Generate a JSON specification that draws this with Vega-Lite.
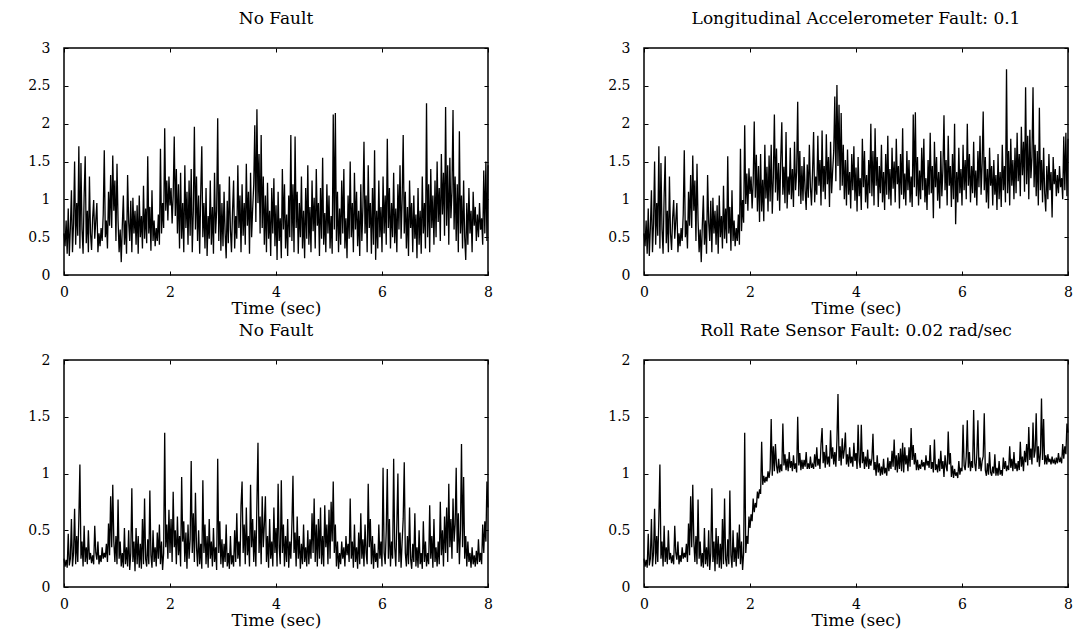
{
"$schema": "https://vega.github.io/schema/vega-lite/v6.json",
"background": "white",
"padding": {"left": 26, "top": 9, "right": 10, "bottom": 10},
"datasets": {"s": [
{"t":0.00,"a":0.55,"b":0.55,"c":0.25,"d":0.25},
{"t":0.02,"a":0.38,"b":0.38,"c":0.18,"d":0.18},
{"t":0.04,"a":0.72,"b":0.72,"c":0.24,"d":0.24},
{"t":0.06,"a":0.28,"b":0.28,"c":0.17,"d":0.17},
{"t":0.08,"a":0.88,"b":0.88,"c":0.47,"d":0.47},
{"t":0.10,"a":0.25,"b":0.25,"c":0.19,"d":0.19},
{"t":0.12,"a":0.62,"b":0.62,"c":0.25,"d":0.25},
{"t":0.14,"a":1.12,"b":1.12,"c":0.60,"d":0.60},
{"t":0.16,"a":0.30,"b":0.30,"c":0.18,"d":0.18},
{"t":0.18,"a":0.68,"b":0.68,"c":0.30,"d":0.30},
{"t":0.20,"a":1.50,"b":1.50,"c":0.69,"d":0.69},
{"t":0.22,"a":0.40,"b":0.40,"c":0.20,"d":0.20},
{"t":0.24,"a":0.95,"b":0.95,"c":0.45,"d":0.45},
{"t":0.26,"a":0.52,"b":0.52,"c":0.22,"d":0.22},
{"t":0.28,"a":1.70,"b":1.70,"c":0.60,"d":0.60},
{"t":0.30,"a":0.35,"b":0.35,"c":1.08,"d":1.08},
{"t":0.32,"a":1.48,"b":1.48,"c":0.25,"d":0.25},
{"t":0.34,"a":0.60,"b":0.60,"c":0.40,"d":0.40},
{"t":0.36,"a":0.28,"b":0.28,"c":0.18,"d":0.18},
{"t":0.38,"a":1.05,"b":1.05,"c":0.54,"d":0.54},
{"t":0.40,"a":1.57,"b":1.57,"c":0.22,"d":0.22},
{"t":0.42,"a":0.42,"b":0.42,"c":0.35,"d":0.35},
{"t":0.44,"a":0.85,"b":0.85,"c":0.20,"d":0.20},
{"t":0.46,"a":0.30,"b":0.30,"c":0.50,"d":0.50},
{"t":0.48,"a":1.30,"b":1.30,"c":0.24,"d":0.24},
{"t":0.50,"a":0.55,"b":0.55,"c":0.30,"d":0.30},
{"t":0.52,"a":0.33,"b":0.33,"c":0.21,"d":0.21},
{"t":0.54,"a":0.75,"b":0.75,"c":0.28,"d":0.28},
{"t":0.56,"a":0.99,"b":0.99,"c":0.20,"d":0.20},
{"t":0.58,"a":0.48,"b":0.48,"c":0.54,"d":0.54},
{"t":0.60,"a":0.72,"b":0.72,"c":0.30,"d":0.30},
{"t":0.62,"a":0.95,"b":0.95,"c":0.24,"d":0.24},
{"t":0.64,"a":0.30,"b":0.30,"c":0.40,"d":0.40},
{"t":0.66,"a":0.55,"b":0.55,"c":0.20,"d":0.20},
{"t":0.68,"a":0.38,"b":0.38,"c":0.28,"d":0.28},
{"t":0.70,"a":0.62,"b":0.62,"c":0.22,"d":0.22},
{"t":0.72,"a":0.45,"b":0.45,"c":0.35,"d":0.35},
{"t":0.74,"a":0.80,"b":0.80,"c":0.25,"d":0.25},
{"t":0.76,"a":1.65,"b":1.65,"c":0.30,"d":0.30},
{"t":0.78,"a":0.50,"b":0.50,"c":0.26,"d":0.26},
{"t":0.80,"a":0.72,"b":0.72,"c":0.38,"d":0.38},
{"t":0.82,"a":0.35,"b":0.35,"c":0.22,"d":0.22},
{"t":0.84,"a":1.10,"b":1.10,"c":0.56,"d":0.56},
{"t":0.86,"a":0.65,"b":0.65,"c":0.28,"d":0.28},
{"t":0.88,"a":1.32,"b":1.32,"c":0.80,"d":0.80},
{"t":0.90,"a":0.62,"b":0.62,"c":0.35,"d":0.35},
{"t":0.92,"a":1.58,"b":1.58,"c":0.90,"d":0.90},
{"t":0.94,"a":0.85,"b":0.85,"c":0.40,"d":0.40},
{"t":0.96,"a":1.25,"b":1.25,"c":0.22,"d":0.22},
{"t":0.98,"a":0.45,"b":0.45,"c":0.45,"d":0.45},
{"t":1.00,"a":1.47,"b":1.47,"c":0.20,"d":0.20},
{"t":1.02,"a":0.72,"b":0.72,"c":0.77,"d":0.77},
{"t":1.04,"a":0.30,"b":0.30,"c":0.25,"d":0.25},
{"t":1.06,"a":0.60,"b":0.60,"c":0.40,"d":0.40},
{"t":1.08,"a":0.17,"b":0.17,"c":0.18,"d":0.18},
{"t":1.10,"a":0.65,"b":0.65,"c":0.30,"d":0.30},
{"t":1.12,"a":1.05,"b":1.05,"c":0.17,"d":0.17},
{"t":1.14,"a":0.40,"b":0.40,"c":0.52,"d":0.52},
{"t":1.16,"a":0.72,"b":0.72,"c":0.20,"d":0.20},
{"t":1.18,"a":0.28,"b":0.28,"c":0.35,"d":0.35},
{"t":1.20,"a":1.32,"b":1.32,"c":0.18,"d":0.18},
{"t":1.22,"a":0.70,"b":0.70,"c":0.50,"d":0.50},
{"t":1.24,"a":0.45,"b":0.45,"c":0.15,"d":0.15},
{"t":1.26,"a":0.98,"b":0.98,"c":0.30,"d":0.30},
{"t":1.28,"a":0.30,"b":0.30,"c":0.87,"d":0.87},
{"t":1.30,"a":1.02,"b":1.02,"c":0.22,"d":0.22},
{"t":1.32,"a":0.55,"b":0.55,"c":0.40,"d":0.40},
{"t":1.34,"a":0.85,"b":0.85,"c":0.14,"d":0.14},
{"t":1.36,"a":0.40,"b":0.40,"c":0.52,"d":0.52},
{"t":1.38,"a":0.92,"b":0.92,"c":0.20,"d":0.20},
{"t":1.40,"a":0.28,"b":0.28,"c":0.45,"d":0.45},
{"t":1.42,"a":1.05,"b":1.05,"c":0.17,"d":0.17},
{"t":1.44,"a":0.50,"b":0.50,"c":0.38,"d":0.38},
{"t":1.46,"a":0.78,"b":0.78,"c":0.16,"d":0.16},
{"t":1.48,"a":0.35,"b":0.35,"c":0.60,"d":0.60},
{"t":1.50,"a":1.18,"b":1.18,"c":0.20,"d":0.20},
{"t":1.52,"a":0.48,"b":0.48,"c":0.78,"d":0.78},
{"t":1.54,"a":0.88,"b":0.88,"c":0.25,"d":0.25},
{"t":1.56,"a":0.42,"b":0.42,"c":0.18,"d":0.18},
{"t":1.58,"a":1.57,"b":1.57,"c":0.42,"d":0.42},
{"t":1.60,"a":0.55,"b":0.55,"c":0.20,"d":0.20},
{"t":1.62,"a":0.90,"b":0.90,"c":0.85,"d":0.85},
{"t":1.64,"a":0.32,"b":0.32,"c":0.28,"d":0.28},
{"t":1.66,"a":1.12,"b":1.12,"c":0.17,"d":0.17},
{"t":1.68,"a":0.45,"b":0.45,"c":0.50,"d":0.50},
{"t":1.70,"a":0.72,"b":0.72,"c":0.22,"d":0.22},
{"t":1.72,"a":0.38,"b":0.38,"c":0.35,"d":0.35},
{"t":1.74,"a":0.62,"b":0.62,"c":0.18,"d":0.18},
{"t":1.76,"a":0.45,"b":0.45,"c":0.48,"d":0.48},
{"t":1.78,"a":0.80,"b":0.80,"c":0.25,"d":0.25},
{"t":1.80,"a":0.40,"b":0.40,"c":0.55,"d":0.55},
{"t":1.82,"a":1.67,"b":1.67,"c":0.20,"d":0.20},
{"t":1.84,"a":0.55,"b":0.58,"c":0.40,"d":0.40},
{"t":1.86,"a":0.95,"b":0.99,"c":0.15,"d":0.15},
{"t":1.88,"a":0.62,"b":0.69,"c":0.30,"d":0.30},
{"t":1.90,"a":1.94,"b":1.98,"c":1.36,"d":1.36},
{"t":1.92,"a":0.85,"b":0.94,"c":0.35,"d":0.30},
{"t":1.94,"a":1.25,"b":1.34,"c":0.55,"d":0.45},
{"t":1.96,"a":0.72,"b":0.85,"c":0.25,"d":0.38},
{"t":1.98,"a":1.30,"b":1.41,"c":0.68,"d":0.62},
{"t":2.00,"a":0.92,"b":1.07,"c":0.30,"d":0.52},
{"t":2.02,"a":1.15,"b":1.30,"c":0.60,"d":0.64},
{"t":2.04,"a":0.68,"b":0.88,"c":0.22,"d":0.58},
{"t":2.06,"a":1.05,"b":1.23,"c":0.84,"d":0.78},
{"t":2.08,"a":1.83,"b":2.03,"c":0.35,"d":0.66},
{"t":2.10,"a":0.78,"b":1.02,"c":0.50,"d":0.74},
{"t":2.12,"a":1.40,"b":1.59,"c":0.20,"d":0.70},
{"t":2.14,"a":0.55,"b":0.84,"c":0.62,"d":0.84},
{"t":2.16,"a":1.20,"b":1.44,"c":0.28,"d":0.78},
{"t":2.18,"a":0.35,"b":0.70,"c":0.45,"d":0.86},
{"t":2.20,"a":1.35,"b":1.60,"c":0.18,"d":0.82},
{"t":2.22,"a":0.48,"b":0.84,"c":0.97,"d":1.28},
{"t":2.24,"a":0.95,"b":1.26,"c":0.40,"d":0.90},
{"t":2.26,"a":0.30,"b":0.71,"c":0.58,"d":0.98},
{"t":2.28,"a":1.45,"b":1.72,"c":0.22,"d":0.92},
{"t":2.30,"a":0.62,"b":1.01,"c":0.48,"d":0.97},
{"t":2.32,"a":1.10,"b":1.43,"c":0.16,"d":0.93},
{"t":2.34,"a":0.40,"b":0.84,"c":0.55,"d":1.02},
{"t":2.36,"a":1.25,"b":1.58,"c":0.25,"d":0.96},
{"t":2.38,"a":0.52,"b":0.97,"c":0.42,"d":1.04},
{"t":2.40,"a":1.40,"b":1.72,"c":1.11,"d":1.48},
{"t":2.42,"a":0.30,"b":0.81,"c":0.30,"d":0.98},
{"t":2.44,"a":0.85,"b":1.28,"c":0.65,"d":1.24},
{"t":2.46,"a":1.96,"b":2.12,"c":0.22,"d":1.02},
{"t":2.48,"a":0.60,"b":1.09,"c":0.83,"d":1.26},
{"t":2.50,"a":1.30,"b":1.67,"c":0.35,"d":1.07},
{"t":2.52,"a":0.45,"b":0.98,"c":0.18,"d":1.00},
{"t":2.54,"a":1.05,"b":1.48,"c":0.50,"d":1.13},
{"t":2.56,"a":0.28,"b":0.85,"c":0.20,"d":1.01},
{"t":2.58,"a":1.10,"b":1.53,"c":0.38,"d":1.08},
{"t":2.60,"a":1.70,"b":2.02,"c":0.16,"d":1.02},
{"t":2.62,"a":0.50,"b":1.06,"c":0.94,"d":1.44},
{"t":2.64,"a":0.95,"b":1.43,"c":0.30,"d":1.07},
{"t":2.66,"a":0.35,"b":0.95,"c":0.55,"d":1.17},
{"t":2.68,"a":1.15,"b":1.89,"c":0.20,"d":1.03},
{"t":2.70,"a":0.25,"b":0.88,"c":0.45,"d":1.13},
{"t":2.72,"a":0.78,"b":1.30,"c":0.17,"d":1.02},
{"t":2.74,"a":0.48,"b":1.06,"c":0.60,"d":1.19},
{"t":2.76,"a":1.25,"b":1.68,"c":0.25,"d":1.05},
{"t":2.78,"a":0.40,"b":1.00,"c":0.40,"d":1.11},
{"t":2.80,"a":0.90,"b":1.40,"c":0.18,"d":1.02},
{"t":2.82,"a":0.28,"b":0.90,"c":0.52,"d":1.16},
{"t":2.84,"a":1.35,"b":1.76,"c":0.22,"d":1.04},
{"t":2.86,"a":0.55,"b":1.12,"c":0.35,"d":1.09},
{"t":2.88,"a":0.85,"b":1.36,"c":0.15,"d":1.01},
{"t":2.90,"a":2.07,"b":2.29,"c":1.13,"d":1.50},
{"t":2.92,"a":0.45,"b":1.04,"c":0.30,"d":1.07},
{"t":2.94,"a":1.20,"b":1.64,"c":0.58,"d":1.18},
{"t":2.96,"a":0.32,"b":0.94,"c":0.20,"d":1.03},
{"t":2.98,"a":0.95,"b":1.44,"c":0.42,"d":1.12},
{"t":3.00,"a":0.38,"b":0.98,"c":0.17,"d":1.04},
{"t":3.02,"a":1.10,"b":1.56,"c":0.38,"d":1.12},
{"t":3.04,"a":0.55,"b":1.12,"c":0.22,"d":1.06},
{"t":3.06,"a":0.22,"b":0.86,"c":0.55,"d":1.19},
{"t":3.08,"a":0.98,"b":1.46,"c":0.18,"d":1.04},
{"t":3.10,"a":0.42,"b":1.02,"c":0.30,"d":1.09},
{"t":3.12,"a":1.30,"b":1.72,"c":0.16,"d":1.04},
{"t":3.14,"a":0.60,"b":1.16,"c":0.45,"d":1.15},
{"t":3.16,"a":0.30,"b":0.92,"c":0.20,"d":1.05},
{"t":3.18,"a":0.85,"b":1.36,"c":0.28,"d":1.08},
{"t":3.20,"a":1.25,"b":1.89,"c":0.18,"d":1.04},
{"t":3.22,"a":0.35,"b":0.96,"c":0.50,"d":1.17},
{"t":3.24,"a":0.78,"b":1.30,"c":0.22,"d":1.06},
{"t":3.26,"a":0.48,"b":1.06,"c":0.65,"d":1.23},
{"t":3.28,"a":1.45,"b":1.84,"c":0.25,"d":1.07},
{"t":3.30,"a":0.62,"b":1.18,"c":0.40,"d":1.13},
{"t":3.32,"a":1.05,"b":1.52,"c":0.18,"d":1.04},
{"t":3.34,"a":0.30,"b":0.92,"c":0.72,"d":1.26},
{"t":3.36,"a":1.20,"b":1.91,"c":0.93,"d":1.40},
{"t":3.38,"a":0.52,"b":1.10,"c":0.30,"d":1.09},
{"t":3.40,"a":0.95,"b":1.44,"c":0.55,"d":1.19},
{"t":3.42,"a":0.40,"b":1.00,"c":0.20,"d":1.05},
{"t":3.44,"a":1.47,"b":1.86,"c":0.70,"d":1.25},
{"t":3.46,"a":0.65,"b":1.20,"c":0.28,"d":1.08},
{"t":3.48,"a":1.10,"b":1.56,"c":0.45,"d":1.15},
{"t":3.50,"a":0.28,"b":0.90,"c":0.18,"d":1.06},
{"t":3.52,"a":1.35,"b":1.76,"c":0.90,"d":1.38},
{"t":3.54,"a":0.50,"b":1.08,"c":0.35,"d":1.13},
{"t":3.56,"a":0.88,"b":1.38,"c":0.60,"d":1.23},
{"t":3.58,"a":1.20,"b":1.64,"c":0.22,"d":1.08},
{"t":3.60,"a":1.98,"b":2.36,"c":0.50,"d":1.19},
{"t":3.62,"a":0.70,"b":1.24,"c":0.18,"d":1.06},
{"t":3.64,"a":2.19,"b":2.51,"c":0.75,"d":1.29},
{"t":3.66,"a":0.95,"b":1.44,"c":1.27,"d":1.70},
{"t":3.68,"a":1.60,"b":2.25,"c":0.30,"d":1.11},
{"t":3.70,"a":0.55,"b":1.12,"c":0.62,"d":1.24},
{"t":3.72,"a":1.85,"b":2.14,"c":0.20,"d":1.07},
{"t":3.74,"a":0.62,"b":1.18,"c":0.80,"d":1.31},
{"t":3.76,"a":1.30,"b":1.72,"c":0.35,"d":1.13},
{"t":3.78,"a":0.40,"b":1.00,"c":0.55,"d":1.21},
{"t":3.80,"a":1.05,"b":1.52,"c":0.80,"d":1.36},
{"t":3.82,"a":0.30,"b":0.92,"c":0.22,"d":1.08},
{"t":3.84,"a":1.22,"b":1.66,"c":0.45,"d":1.17},
{"t":3.86,"a":0.48,"b":1.06,"c":0.17,"d":1.06},
{"t":3.88,"a":0.85,"b":1.36,"c":0.60,"d":1.23},
{"t":3.90,"a":0.25,"b":0.88,"c":0.25,"d":1.09},
{"t":3.92,"a":1.15,"b":1.60,"c":0.40,"d":1.15},
{"t":3.94,"a":0.55,"b":1.12,"c":0.18,"d":1.06},
{"t":3.96,"a":1.28,"b":1.70,"c":0.70,"d":1.27},
{"t":3.98,"a":0.38,"b":0.98,"c":0.30,"d":1.11},
{"t":4.00,"a":0.92,"b":1.42,"c":0.52,"d":1.18},
{"t":4.02,"a":0.20,"b":0.84,"c":0.18,"d":1.04},
{"t":4.04,"a":1.10,"b":1.56,"c":0.91,"d":1.43},
{"t":4.06,"a":0.45,"b":1.04,"c":0.35,"d":1.11},
{"t":4.08,"a":0.75,"b":1.28,"c":0.20,"d":1.05},
{"t":4.10,"a":0.22,"b":0.86,"c":0.94,"d":1.43},
{"t":4.12,"a":1.40,"b":1.80,"c":0.30,"d":1.09},
{"t":4.14,"a":0.60,"b":1.16,"c":0.55,"d":1.19},
{"t":4.16,"a":1.20,"b":1.64,"c":0.18,"d":1.04},
{"t":4.18,"a":0.35,"b":0.96,"c":0.45,"d":1.15},
{"t":4.20,"a":0.80,"b":1.32,"c":0.22,"d":1.06},
{"t":4.22,"a":0.25,"b":0.88,"c":0.60,"d":1.21},
{"t":4.24,"a":1.05,"b":1.52,"c":0.17,"d":1.04},
{"t":4.26,"a":0.50,"b":1.08,"c":0.40,"d":1.13},
{"t":4.28,"a":1.85,"b":2.00,"c":0.25,"d":1.07},
{"t":4.30,"a":0.45,"b":1.04,"c":0.55,"d":1.13},
{"t":4.32,"a":1.20,"b":1.64,"c":0.98,"d":1.35},
{"t":4.34,"a":0.30,"b":0.92,"c":0.30,"d":1.03},
{"t":4.36,"a":1.83,"b":1.94,"c":0.48,"d":1.10},
{"t":4.38,"a":0.62,"b":1.18,"c":0.18,"d":0.98},
{"t":4.40,"a":1.10,"b":1.56,"c":0.62,"d":1.16},
{"t":4.42,"a":0.28,"b":0.90,"c":0.25,"d":1.01},
{"t":4.44,"a":0.95,"b":1.44,"c":0.45,"d":1.09},
{"t":4.46,"a":0.50,"b":1.08,"c":0.16,"d":0.98},
{"t":4.48,"a":1.30,"b":1.72,"c":0.38,"d":1.06},
{"t":4.50,"a":0.35,"b":0.96,"c":0.20,"d":0.99},
{"t":4.52,"a":0.85,"b":1.36,"c":0.55,"d":1.13},
{"t":4.54,"a":0.22,"b":0.86,"c":0.22,"d":1.00},
{"t":4.56,"a":1.15,"b":1.60,"c":0.35,"d":1.05},
{"t":4.58,"a":0.48,"b":1.06,"c":0.18,"d":0.98},
{"t":4.60,"a":1.45,"b":1.84,"c":0.50,"d":1.14},
{"t":4.62,"a":0.40,"b":1.00,"c":0.20,"d":1.02},
{"t":4.64,"a":0.90,"b":1.40,"c":0.42,"d":1.11},
{"t":4.66,"a":0.30,"b":0.92,"c":0.25,"d":1.04},
{"t":4.68,"a":1.25,"b":1.68,"c":0.65,"d":1.20},
{"t":4.70,"a":0.58,"b":1.14,"c":0.30,"d":1.06},
{"t":4.72,"a":1.02,"b":1.50,"c":0.78,"d":1.30},
{"t":4.74,"a":0.35,"b":0.96,"c":0.22,"d":1.03},
{"t":4.76,"a":1.40,"b":1.80,"c":0.55,"d":1.16},
{"t":4.78,"a":0.65,"b":1.20,"c":0.18,"d":1.01},
{"t":4.80,"a":0.95,"b":1.44,"c":0.60,"d":1.18},
{"t":4.82,"a":0.25,"b":0.88,"c":0.25,"d":1.04},
{"t":4.84,"a":1.15,"b":1.60,"c":0.70,"d":1.22},
{"t":4.86,"a":0.48,"b":1.06,"c":0.20,"d":1.02},
{"t":4.88,"a":1.55,"b":1.94,"c":0.45,"d":1.27},
{"t":4.90,"a":0.40,"b":1.00,"c":0.18,"d":1.01},
{"t":4.92,"a":0.82,"b":1.34,"c":0.72,"d":1.23},
{"t":4.94,"a":0.30,"b":0.92,"c":0.35,"d":1.08},
{"t":4.96,"a":1.20,"b":1.64,"c":0.55,"d":1.16},
{"t":4.98,"a":0.55,"b":1.12,"c":0.20,"d":1.02},
{"t":5.00,"a":1.05,"b":1.52,"c":0.68,"d":1.23},
{"t":5.02,"a":0.35,"b":0.96,"c":0.25,"d":1.06},
{"t":5.04,"a":0.78,"b":1.30,"c":0.75,"d":1.40},
{"t":5.06,"a":0.28,"b":0.90,"c":0.40,"d":1.12},
{"t":5.08,"a":2.12,"b":2.12,"c":0.93,"d":1.25},
{"t":5.10,"a":0.60,"b":1.16,"c":0.30,"d":1.08},
{"t":5.12,"a":2.14,"b":2.15,"c":0.55,"d":1.18},
{"t":5.14,"a":0.45,"b":1.04,"c":0.18,"d":1.03},
{"t":5.16,"a":1.10,"b":1.56,"c":0.40,"d":1.12},
{"t":5.18,"a":0.30,"b":0.92,"c":0.16,"d":1.03},
{"t":5.20,"a":0.88,"b":1.38,"c":0.30,"d":1.08},
{"t":5.22,"a":0.40,"b":1.00,"c":0.20,"d":1.04},
{"t":5.24,"a":1.25,"b":1.68,"c":0.40,"d":1.12},
{"t":5.26,"a":0.55,"b":1.12,"c":0.25,"d":1.06},
{"t":5.28,"a":1.40,"b":1.80,"c":0.35,"d":1.10},
{"t":5.30,"a":0.35,"b":0.96,"c":0.18,"d":1.03},
{"t":5.32,"a":0.75,"b":1.28,"c":0.45,"d":1.16},
{"t":5.34,"a":0.22,"b":0.86,"c":0.28,"d":1.07},
{"t":5.36,"a":1.05,"b":1.52,"c":0.38,"d":1.11},
{"t":5.38,"a":0.48,"b":1.06,"c":0.22,"d":1.05},
{"t":5.40,"a":1.50,"b":1.88,"c":0.78,"d":1.25},
{"t":5.42,"a":0.50,"b":1.08,"c":0.25,"d":1.04},
{"t":5.44,"a":0.95,"b":1.44,"c":0.40,"d":1.10},
{"t":5.46,"a":0.30,"b":0.75,"c":0.17,"d":1.01},
{"t":5.48,"a":1.35,"b":1.76,"c":0.55,"d":1.30},
{"t":5.50,"a":0.60,"b":1.16,"c":0.22,"d":1.03},
{"t":5.52,"a":1.10,"b":1.56,"c":0.35,"d":1.08},
{"t":5.54,"a":0.38,"b":0.98,"c":0.16,"d":1.01},
{"t":5.56,"a":0.85,"b":1.36,"c":0.48,"d":1.13},
{"t":5.58,"a":0.25,"b":0.88,"c":0.20,"d":1.02},
{"t":5.60,"a":1.20,"b":1.64,"c":0.65,"d":1.20},
{"t":5.62,"a":0.45,"b":1.04,"c":0.25,"d":1.04},
{"t":5.64,"a":0.90,"b":1.40,"c":0.42,"d":1.11},
{"t":5.66,"a":1.76,"b":2.11,"c":0.18,"d":0.97},
{"t":5.68,"a":0.55,"b":1.12,"c":0.55,"d":1.16},
{"t":5.70,"a":1.05,"b":1.52,"c":0.30,"d":1.06},
{"t":5.72,"a":0.30,"b":0.92,"c":0.20,"d":1.02},
{"t":5.74,"a":1.45,"b":1.84,"c":0.91,"d":1.37},
{"t":5.76,"a":0.62,"b":1.18,"c":0.35,"d":1.08},
{"t":5.78,"a":0.95,"b":1.44,"c":0.60,"d":1.18},
{"t":5.80,"a":0.28,"b":0.90,"c":0.20,"d":0.97},
{"t":5.82,"a":1.15,"b":1.60,"c":0.45,"d":1.07},
{"t":5.84,"a":0.40,"b":1.00,"c":0.16,"d":0.96},
{"t":5.86,"a":1.65,"b":2.00,"c":0.38,"d":1.04},
{"t":5.88,"a":0.20,"b":0.67,"c":0.22,"d":0.98},
{"t":5.90,"a":0.85,"b":1.36,"c":0.30,"d":1.01},
{"t":5.92,"a":0.35,"b":0.96,"c":0.17,"d":0.96},
{"t":5.94,"a":1.25,"b":1.68,"c":0.55,"d":1.11},
{"t":5.96,"a":0.50,"b":1.08,"c":0.25,"d":0.99},
{"t":5.98,"a":0.90,"b":1.40,"c":0.40,"d":1.05},
{"t":6.00,"a":0.30,"b":0.92,"c":0.18,"d":1.02},
{"t":6.02,"a":1.30,"b":1.72,"c":1.05,"d":1.43},
{"t":6.04,"a":0.55,"b":1.12,"c":0.30,"d":1.07},
{"t":6.06,"a":1.05,"b":1.52,"c":0.20,"d":1.03},
{"t":6.08,"a":0.40,"b":1.00,"c":0.50,"d":1.15},
{"t":6.10,"a":1.80,"b":2.00,"c":1.04,"d":1.47},
{"t":6.12,"a":0.62,"b":1.18,"c":0.25,"d":1.05},
{"t":6.14,"a":1.15,"b":1.60,"c":0.60,"d":1.19},
{"t":6.16,"a":0.35,"b":0.96,"c":0.18,"d":1.02},
{"t":6.18,"a":0.95,"b":1.44,"c":0.40,"d":1.11},
{"t":6.20,"a":0.50,"b":1.08,"c":0.25,"d":1.05},
{"t":6.22,"a":1.35,"b":1.76,"c":1.13,"d":1.56},
{"t":6.24,"a":0.42,"b":1.02,"c":0.35,"d":1.09},
{"t":6.26,"a":0.88,"b":1.38,"c":0.18,"d":1.02},
{"t":6.28,"a":0.30,"b":0.92,"c":0.55,"d":1.17},
{"t":6.30,"a":1.20,"b":1.64,"c":1.00,"d":1.47},
{"t":6.32,"a":0.60,"b":1.16,"c":0.22,"d":1.04},
{"t":6.34,"a":1.45,"b":1.84,"c":0.48,"d":1.14},
{"t":6.36,"a":0.48,"b":1.06,"c":0.17,"d":1.02},
{"t":6.38,"a":1.00,"b":1.48,"c":0.40,"d":1.11},
{"t":6.40,"a":1.85,"b":2.16,"c":0.60,"d":1.15},
{"t":6.42,"a":0.55,"b":1.12,"c":1.10,"d":1.53},
{"t":6.44,"a":1.10,"b":1.56,"c":0.30,"d":1.03},
{"t":6.46,"a":0.35,"b":0.96,"c":0.18,"d":0.98},
{"t":6.48,"a":0.90,"b":1.40,"c":0.45,"d":1.09},
{"t":6.50,"a":0.25,"b":0.88,"c":0.20,"d":0.99},
{"t":6.52,"a":1.25,"b":1.68,"c":0.70,"d":1.19},
{"t":6.54,"a":0.62,"b":1.18,"c":0.25,"d":1.01},
{"t":6.56,"a":0.95,"b":1.44,"c":0.16,"d":0.98},
{"t":6.58,"a":0.30,"b":0.92,"c":0.38,"d":1.06},
{"t":6.60,"a":1.05,"b":1.52,"c":0.22,"d":1.00},
{"t":6.62,"a":0.48,"b":1.06,"c":0.65,"d":1.17},
{"t":6.64,"a":0.80,"b":1.32,"c":0.18,"d":0.98},
{"t":6.66,"a":0.22,"b":0.86,"c":0.35,"d":1.05},
{"t":6.68,"a":1.15,"b":1.60,"c":0.17,"d":0.98},
{"t":6.70,"a":0.40,"b":1.00,"c":0.50,"d":1.11},
{"t":6.72,"a":0.85,"b":1.36,"c":0.20,"d":0.99},
{"t":6.74,"a":0.28,"b":0.90,"c":0.30,"d":1.03},
{"t":6.76,"a":1.30,"b":1.72,"c":0.16,"d":0.98},
{"t":6.78,"a":0.55,"b":1.12,"c":0.58,"d":1.14},
{"t":6.80,"a":0.95,"b":1.44,"c":0.22,"d":1.04},
{"t":6.82,"a":0.35,"b":0.96,"c":0.40,"d":1.11},
{"t":6.84,"a":2.27,"b":2.72,"c":0.18,"d":1.02},
{"t":6.86,"a":0.50,"b":1.08,"c":0.30,"d":1.07},
{"t":6.88,"a":1.20,"b":1.64,"c":0.20,"d":1.03},
{"t":6.90,"a":0.30,"b":0.92,"c":0.72,"d":1.24},
{"t":6.92,"a":1.40,"b":1.80,"c":0.25,"d":1.05},
{"t":6.94,"a":0.62,"b":1.18,"c":0.45,"d":1.13},
{"t":6.96,"a":1.05,"b":1.52,"c":0.17,"d":1.02},
{"t":6.98,"a":0.40,"b":1.00,"c":0.60,"d":1.19},
{"t":7.00,"a":1.25,"b":1.68,"c":0.22,"d":1.04},
{"t":7.02,"a":0.50,"b":1.08,"c":0.35,"d":1.09},
{"t":7.04,"a":1.50,"b":1.88,"c":0.18,"d":1.02},
{"t":7.06,"a":0.70,"b":1.24,"c":0.40,"d":1.11},
{"t":7.08,"a":1.15,"b":1.60,"c":0.20,"d":1.03},
{"t":7.10,"a":0.45,"b":1.04,"c":0.75,"d":1.28},
{"t":7.12,"a":1.60,"b":1.96,"c":0.28,"d":1.06},
{"t":7.14,"a":0.80,"b":1.32,"c":0.50,"d":1.15},
{"t":7.16,"a":1.35,"b":1.76,"c":0.18,"d":1.02},
{"t":7.18,"a":0.52,"b":1.10,"c":0.62,"d":1.20},
{"t":7.20,"a":2.22,"b":2.48,"c":0.30,"d":1.10},
{"t":7.22,"a":0.65,"b":1.20,"c":0.70,"d":1.26},
{"t":7.24,"a":1.45,"b":1.84,"c":0.22,"d":1.07},
{"t":7.26,"a":0.40,"b":1.00,"c":0.91,"d":1.41},
{"t":7.28,"a":1.55,"b":1.92,"c":0.35,"d":1.12},
{"t":7.30,"a":0.75,"b":1.28,"c":0.60,"d":1.22},
{"t":7.32,"a":1.10,"b":1.56,"c":0.25,"d":1.08},
{"t":7.34,"a":2.18,"b":2.48,"c":0.78,"d":1.45},
{"t":7.36,"a":0.60,"b":1.16,"c":0.40,"d":1.14},
{"t":7.38,"a":1.30,"b":1.72,"c":0.55,"d":1.20},
{"t":7.40,"a":0.45,"b":1.04,"c":1.05,"d":1.53},
{"t":7.42,"a":1.20,"b":1.64,"c":0.30,"d":1.10},
{"t":7.44,"a":0.30,"b":0.92,"c":0.65,"d":1.24},
{"t":7.46,"a":1.90,"b":2.21,"c":0.20,"d":1.06},
{"t":7.48,"a":0.55,"b":1.12,"c":0.50,"d":1.18},
{"t":7.50,"a":1.05,"b":1.52,"c":1.26,"d":1.66},
{"t":7.52,"a":0.35,"b":0.96,"c":0.35,"d":1.12},
{"t":7.54,"a":1.25,"b":1.68,"c":0.97,"d":1.48},
{"t":7.56,"a":0.50,"b":1.08,"c":0.25,"d":1.08},
{"t":7.58,"a":0.20,"b":0.84,"c":0.45,"d":1.16},
{"t":7.60,"a":0.95,"b":1.44,"c":0.18,"d":1.08},
{"t":7.62,"a":0.40,"b":1.00,"c":0.40,"d":1.17},
{"t":7.64,"a":1.15,"b":1.60,"c":0.22,"d":1.10},
{"t":7.66,"a":0.55,"b":1.12,"c":0.30,"d":1.13},
{"t":7.68,"a":0.85,"b":1.36,"c":0.17,"d":1.08},
{"t":7.70,"a":0.30,"b":0.76,"c":0.35,"d":1.15},
{"t":7.72,"a":1.10,"b":1.56,"c":0.20,"d":1.09},
{"t":7.74,"a":0.65,"b":1.20,"c":0.28,"d":1.12},
{"t":7.76,"a":0.90,"b":1.40,"c":0.18,"d":1.08},
{"t":7.78,"a":0.45,"b":1.04,"c":0.32,"d":1.14},
{"t":7.80,"a":0.80,"b":1.32,"c":0.20,"d":1.09},
{"t":7.82,"a":0.50,"b":1.08,"c":0.42,"d":1.18},
{"t":7.84,"a":0.95,"b":1.44,"c":0.22,"d":1.10},
{"t":7.86,"a":0.60,"b":1.16,"c":0.30,"d":1.13},
{"t":7.88,"a":0.75,"b":1.28,"c":0.20,"d":1.09},
{"t":7.90,"a":0.40,"b":1.00,"c":0.55,"d":1.26},
{"t":7.92,"a":1.38,"b":1.83,"c":0.30,"d":1.13},
{"t":7.94,"a":0.55,"b":1.12,"c":0.58,"d":1.24},
{"t":7.96,"a":1.50,"b":1.88,"c":0.40,"d":1.17},
{"t":7.98,"a":0.45,"b":1.04,"c":0.93,"d":1.44},
{"t":8.00,"a":1.45,"b":1.80,"c":0.70,"d":1.36}
]},
"data": {"name": "s"},
"columns": 2,
"spacing": {"row": 85, "column": 156},
"bounds": "flush",
"concat": [
{"title": "No Fault", "width": 424, "height": 227,
 "layer": [
  {"mark": {"type": "line", "color": "black", "strokeWidth": 1.3},
   "encoding": {
    "x": {"field": "t", "type": "quantitative", "scale": {"domain": [0, 8], "nice": false, "zero": false}, "axis": {"orient": "bottom", "values": [0, 2, 4, 6, 8], "title": "Time (sec)", "labelPadding": 14, "titlePadding": 1}},
    "y": {"field": "a", "type": "quantitative", "scale": {"domain": [0, 3], "nice": false}, "axis": {"orient": "left", "values": [0, 0.5, 1, 1.5, 2, 2.5, 3], "format": "~g", "title": null, "labelPadding": 18}}}},
  {"mark": {"type": "line", "opacity": 0},
   "encoding": {
    "x": {"field": "t", "type": "quantitative", "axis": {"orient": "top", "values": [0, 2, 4, 6, 8], "labels": false, "title": null}},
    "y": {"field": "a", "type": "quantitative", "axis": {"orient": "right", "values": [0, 0.5, 1, 1.5, 2, 2.5, 3], "labels": false, "title": null}}}}
 ],
 "resolve": {"axis": {"x": "independent", "y": "independent"}}},
{"title": "Longitudinal Accelerometer Fault: 0.1", "width": 424, "height": 227,
 "layer": [
  {"mark": {"type": "line", "color": "black", "strokeWidth": 1.3},
   "encoding": {
    "x": {"field": "t", "type": "quantitative", "scale": {"domain": [0, 8], "nice": false, "zero": false}, "axis": {"orient": "bottom", "values": [0, 2, 4, 6, 8], "title": "Time (sec)", "labelPadding": 14, "titlePadding": 1}},
    "y": {"field": "b", "type": "quantitative", "scale": {"domain": [0, 3], "nice": false}, "axis": {"orient": "left", "values": [0, 0.5, 1, 1.5, 2, 2.5, 3], "format": "~g", "title": null, "labelPadding": 18}}}},
  {"mark": {"type": "line", "opacity": 0},
   "encoding": {
    "x": {"field": "t", "type": "quantitative", "axis": {"orient": "top", "values": [0, 2, 4, 6, 8], "labels": false, "title": null}},
    "y": {"field": "b", "type": "quantitative", "axis": {"orient": "right", "values": [0, 0.5, 1, 1.5, 2, 2.5, 3], "labels": false, "title": null}}}}
 ],
 "resolve": {"axis": {"x": "independent", "y": "independent"}}},
{"title": "No Fault", "width": 424, "height": 227,
 "layer": [
  {"mark": {"type": "line", "color": "black", "strokeWidth": 1.3},
   "encoding": {
    "x": {"field": "t", "type": "quantitative", "scale": {"domain": [0, 8], "nice": false, "zero": false}, "axis": {"orient": "bottom", "values": [0, 2, 4, 6, 8], "title": "Time (sec)", "labelPadding": 14, "titlePadding": 1}},
    "y": {"field": "c", "type": "quantitative", "scale": {"domain": [0, 2], "nice": false}, "axis": {"orient": "left", "values": [0, 0.5, 1, 1.5, 2], "format": "~g", "title": null, "labelPadding": 18}}}},
  {"mark": {"type": "line", "opacity": 0},
   "encoding": {
    "x": {"field": "t", "type": "quantitative", "axis": {"orient": "top", "values": [0, 2, 4, 6, 8], "labels": false, "title": null}},
    "y": {"field": "c", "type": "quantitative", "axis": {"orient": "right", "values": [0, 0.5, 1, 1.5, 2], "labels": false, "title": null}}}}
 ],
 "resolve": {"axis": {"x": "independent", "y": "independent"}}},
{"title": "Roll Rate Sensor Fault: 0.02 rad/sec", "width": 424, "height": 227,
 "layer": [
  {"mark": {"type": "line", "color": "black", "strokeWidth": 1.3},
   "encoding": {
    "x": {"field": "t", "type": "quantitative", "scale": {"domain": [0, 8], "nice": false, "zero": false}, "axis": {"orient": "bottom", "values": [0, 2, 4, 6, 8], "title": "Time (sec)", "labelPadding": 14, "titlePadding": 1}},
    "y": {"field": "d", "type": "quantitative", "scale": {"domain": [0, 2], "nice": false}, "axis": {"orient": "left", "values": [0, 0.5, 1, 1.5, 2], "format": "~g", "title": null, "labelPadding": 18}}}},
  {"mark": {"type": "line", "opacity": 0},
   "encoding": {
    "x": {"field": "t", "type": "quantitative", "axis": {"orient": "top", "values": [0, 2, 4, 6, 8], "labels": false, "title": null}},
    "y": {"field": "d", "type": "quantitative", "axis": {"orient": "right", "values": [0, 0.5, 1, 1.5, 2], "labels": false, "title": null}}}}
 ],
 "resolve": {"axis": {"x": "independent", "y": "independent"}}}
],
"config": {
 "view": {"stroke": "black", "strokeWidth": 1.5},
 "title": {"font": "DejaVu Serif", "fontSize": 17, "fontWeight": "normal", "color": "black", "anchor": "middle", "frame": "group", "baseline": "alphabetic", "offset": 13},
 "axis": {"domain": false, "grid": false, "ticks": true, "tickColor": "black", "tickWidth": 1, "tickSize": -4, "labelFont": "DejaVu Serif", "labelFontSize": 14, "labelColor": "black", "labelFlush": false, "labelOverlap": false, "titleFont": "DejaVu Serif", "titleFontSize": 17, "titleFontWeight": "normal", "titleColor": "black"}
}
}
